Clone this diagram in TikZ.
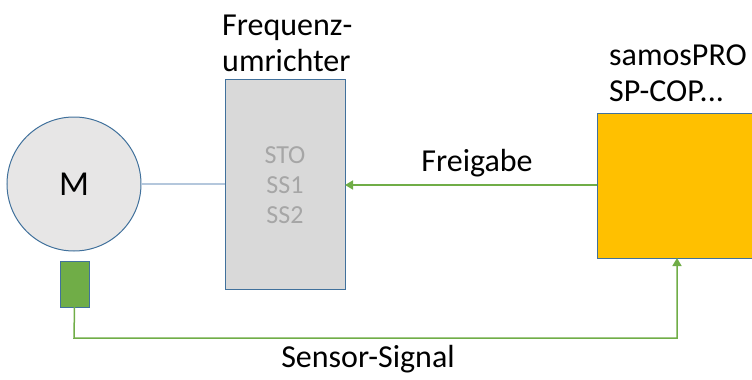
\documentclass[tikz,border=0pt]{standalone}
\usepackage{fontspec}
\setmainfont{Carlito}
\usetikzlibrary{arrows.meta}
\definecolor{bordblue}{HTML}{41719C}
\definecolor{sigreen}{HTML}{70AD47}
\definecolor{motorgray}{HTML}{E7E6E6}
\definecolor{fugray}{HTML}{D9D9D9}
\definecolor{txtgray}{HTML}{A6A6A6}
\definecolor{samosyellow}{HTML}{FFC000}
\definecolor{linkgray}{HTML}{B4C7DC}
\tikzset{
  blk/.style={draw=bordblue, line width=1pt, inner sep=0pt, outer sep=0pt},
  sig/.style={draw=sigreen, line width=1.5pt},
  lbl/.style={font=\fontsize{32}{36.5}\selectfont, inner sep=0pt, align=left},
}
\begin{document}
\begin{tikzpicture}[x=1pt,y=-1pt]
\useasboundingbox (0,0) rectangle (752,380);
% motor
\node[blk, circle, fill=motorgray, minimum size=134pt, font=\fontsize{35}{30}\selectfont] (m) at (74,184) {M};
% sensor
\node[blk, fill=sigreen, minimum width=29pt, minimum height=46pt] (sens) at (74.5,284) {};
% frequency converter
\node[blk, fill=fugray, minimum width=120pt, minimum height=210pt] (fu) at (285,184) {};
\node[font=\fontsize{26}{30}\selectfont, text=txtgray, align=center, inner sep=0pt] (fut) at (285,185) {STO\\SS1\\SS2};
\node[lbl, anchor=south west] (ful) at (222,72) {Frequenz-\\umrichter};
% samos
\node[blk, fill=samosyellow, minimum width=170pt, minimum height=145pt, anchor=north west] (sp) at (597,113) {};
\node[lbl, anchor=south west] (spl) at (609,102) {samosPRO\\SP-COP...};
% motor to FU
\draw[draw=linkgray, line width=1.2pt] (m.east) -- (fu.west);
% Freigabe
\draw[sig, -{Triangle[width=9pt,length=8pt]}] (sp.west |- 0,185) -- (fu.east |- 0,185);
\node[lbl, anchor=base] (fg) at (477,171) {Freigabe};
% sensor signal
\coordinate (c1) at (74,338);
\coordinate (c2) at (677,338);
\draw[sig, -{Triangle[width=9pt,length=8pt]}] (sens.south) -- (c1) -- (c2) -- (c2 |- sp.south);
\node[lbl, anchor=base] (ss) at (368,367) {Sensor-Signal};
\end{tikzpicture}
\end{document}
